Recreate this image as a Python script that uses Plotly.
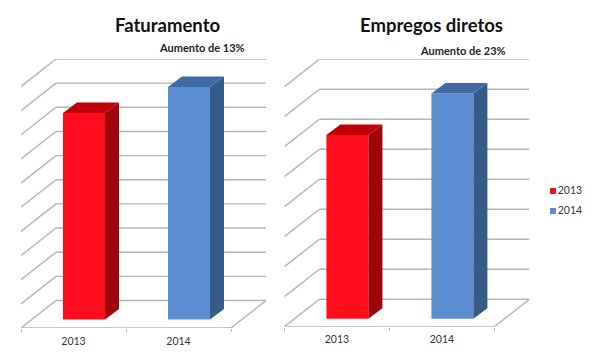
import plotly.graph_objects as go

# ---- data ----
categories = ["2013", "2014"]
faturamento = [8.55, 9.63]
empregos = [6.12, 7.51]
titles = ["Faturamento", "Empregos diretos"]
notes = ["Aumento de 13%", "Aumento de 23%"]
series_colors = {"2013": ("#FF0D1C", "#9E040C", "#BF0008"),
                 "2014": ("#5B8DD2", "#375B87", "#4169A3")}

W, H = 605, 360
GRID = "#B4B4B4"
FONT = "Lato, Carlito, 'Noto Sans', sans-serif"

# panel geometry in pixels
panels = [
    dict(values=faturamento, x0=21.0, front=328.0, back=300.5, base=319.5, unit=24.15, n=10,
         suffix="", title_x=167, title_y=25, note_x=201.5, note_y=48),
    dict(values=empregos, x0=284.4, front=326.7, back=299.3, base=318.7, unit=30.0, n=8,
         suffix="2", title_x=431, title_y=25, note_x=462.5, note_y=51),
]
CAT = 105.0      # px per category
DX_WALL = 35.0   # px depth of floor
DX_BAR = 14.0    # px depth of a bar
DY_BAR = 10.5

fig = go.Figure()
shapes = []
annotations = []
layout_axes = {}

for idx, p in enumerate(panels):
    xa, ya = "x" + p["suffix"], "y" + p["suffix"]
    xname, yname = "xaxis" + p["suffix"], "yaxis" + p["suffix"]
    unit = p["unit"]
    dxw = DX_WALL / CAT
    dxb = DX_BAR / CAT
    dyb = DY_BAR / unit
    y_front = (p["base"] - p["front"]) / unit
    y_back = (p["base"] - p["back"]) / unit
    top_px = p["back"] - p["n"] * unit
    y_top = (p["base"] - top_px) / unit
    x_left, x_right = -0.5, 1.5
    x_end = x_right + dxw

    def seg(x0, y0, x1, y1):
        shapes.append(dict(type="line", xref=xa, yref=ya, x0=x0, y0=y0, x1=x1, y1=y1,
                           layer="below", line=dict(color=GRID, width=1.4)))

    # back wall grid and left wall diagonals
    for k in range(p["n"] + 1):
        y = y_back + k
        seg(x_left + dxw, y, x_end, y)
        seg(x_left, y_front + k, x_left + dxw, y)
    # floor outline
    seg(x_left, y_front, x_right, y_front)
    seg(x_right, y_front, x_end, y_back)

    for i, (cat, v) in enumerate(zip(categories, p["values"])):
        front, side, top = series_colors[cat]
        b0, b1 = i - 0.1, i + 0.3
        # side face
        fig.add_trace(go.Scatter(
            x=[b1, b1 + dxb, b1 + dxb, b1, b1], y=[0, dyb, v + dyb, v, 0],
            xaxis=xa, yaxis=ya, mode="lines", fill="toself", fillcolor=side,
            line=dict(width=0), showlegend=False, hoverinfo="skip", cliponaxis=False))
        # top face
        fig.add_trace(go.Scatter(
            x=[b0, b0 + dxb, b1 + dxb, b1, b0], y=[v, v + dyb, v + dyb, v, v],
            xaxis=xa, yaxis=ya, mode="lines", fill="toself", fillcolor=top,
            line=dict(width=0), showlegend=False, hoverinfo="skip", cliponaxis=False))
        # front face
        fig.add_trace(go.Bar(
            x=[i], y=[v], width=[0.4], offset=[-0.1], name=cat, xaxis=xa, yaxis=ya,
            marker=dict(color=front, line=dict(width=0)), showlegend=False, cliponaxis=False))

    d0 = p["x0"] / W
    d1 = (p["x0"] + CAT * 2 + DX_WALL) / W
    layout_axes[xname] = dict(
        domain=[d0, d1], range=[x_left, x_end], anchor=ya, zeroline=False, showgrid=False,
        showline=False, tickmode="array", tickvals=[0, 1], ticktext=categories, ticks="",
        ticklabelstandoff=5, tickfont=dict(size=10.5, color="#333333", family=FONT),
        minor=dict(tickmode="array", tickvals=[x_left, 0.5, x_right], ticks="outside",
                   ticklen=3, tickwidth=1, tickcolor=GRID, showgrid=False),
        fixedrange=True)
    layout_axes[yname] = dict(
        domain=[1 - p["front"] / H, 1 - top_px / H], range=[y_front, y_top], anchor=xa,
        visible=False, fixedrange=True)

    annotations.append(dict(text="<b>%s</b>" % titles[idx], xref="paper", yref="paper",
                            x=p["title_x"] / W, y=1 - p["title_y"] / H, showarrow=False,
                            xanchor="center", yanchor="middle",
                            font=dict(size=18.5, color="#111111", family=FONT)))
    annotations.append(dict(text="<b>%s</b>" % notes[idx], xref="paper", yref="paper",
                            x=p["note_x"] / W, y=1 - p["note_y"] / H, showarrow=False,
                            xanchor="center", yanchor="middle",
                            font=dict(size=11, color="#222222", family=FONT)))

# key, drawn on its own small axes
layout_axes["xaxis3"] = dict(domain=[550 / W, 600 / W], range=[0, 50], anchor="y3", visible=False, fixedrange=True)
layout_axes["yaxis3"] = dict(domain=[1 - 221 / H, 1 - 181 / H], range=[40, 0], anchor="x3", visible=False, fixedrange=True)
for cat, ky in zip(categories, [10, 30]):
    fig.add_trace(go.Scatter(
        x=[3], y=[ky], xaxis="x3", yaxis="y3", mode="markers+text", text=[cat],
        textposition="middle right", textfont=dict(size=10.5, color="#333333", family=FONT),
        marker=dict(symbol="square", size=6, color=series_colors[cat][0]),
        showlegend=False, hoverinfo="skip", cliponaxis=False))

fig.update_layout(width=W, height=H, margin=dict(l=0, r=0, t=0, b=0), autosize=False,
                  paper_bgcolor="white", plot_bgcolor="rgba(0,0,0,0)", barmode="overlay",
                  showlegend=False, shapes=shapes, annotations=annotations,
                  **layout_axes)
fig.write_html("out.html", config=dict(displayModeBar=False),
               post_script="document.body.style.margin='0';")
